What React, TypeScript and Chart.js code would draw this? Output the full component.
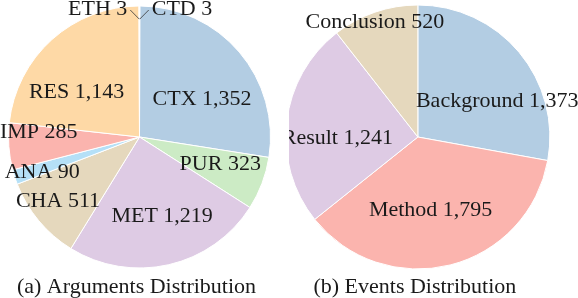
import React, { useEffect, useRef } from "react";
import { Chart, registerables } from "chart.js";

Chart.register(...registerables);

// ---- data ----
const argLabels = ["CTD", "CTX", "PUR", "MET", "CHA", "ANA", "IMP", "RES", "ETH"];
const argValues = [3, 1352, 323, 1219, 511, 90, 285, 1143, 3];
const argColors = ["#b3cde3", "#b3cde3", "#ccebc5", "#decbe4", "#e5d8bd", "#b5e0f7", "#fbb4ae", "#fed9a6", "#fed9a6"];

const evtLabels = ["Background", "Method", "Result", "Conclusion"];
const evtValues = [1373, 1795, 1241, 520];
const evtColors = ["#b3cde3", "#fbb4ae", "#decbe4", "#e5d8bd"];

const captionA = "(a) Arguments Distribution";
const captionB = "(b) Events Distribution";

// ---- label layout (angle offset in degrees, radial fraction) or leader side ----
type Lay = { dAngle?: number; frac?: number; leader?: "left" | "right" };
const argLayout: Lay[] = [
  { leader: "right" },
  { dAngle: 9, frac: 0.56 },
  { dAngle: -2.3, frac: 0.65 },
  { dAngle: -3, frac: 0.63 },
  { dAngle: 1.7, frac: 0.79 },
  { dAngle: -2.2, frac: 0.79 },
  { dAngle: 7.1, frac: 0.77 },
  { dAngle: -12.5, frac: 0.59 },
  { leader: "left" },
];
const evtLayout: Lay[] = [
  { dAngle: 15.5, frac: 0.66 },
  { dAngle: 4.2, frac: 0.56 },
  { dAngle: -7.7, frac: 0.61 },
  { dAngle: -1.5, frac: 0.93 },
];

const FONT = '22px "Liberation Serif", "Times New Roman", serif';
const TEXT = "#1a1a1a";

const fmt = (v: number) => v.toLocaleString("en-US");

function makeLabelPlugin(labels: string[], values: number[], layout: Lay[], caption: string) {
  return {
    id: "pieLabels",
    afterDatasetsDraw(chart: any) {
      const ctx = chart.ctx as CanvasRenderingContext2D;
      const meta = chart.getDatasetMeta(0);
      ctx.save();
      ctx.font = FONT;
      ctx.fillStyle = TEXT;
      ctx.textBaseline = "middle";
      let cx = 0, R = 0;
      meta.data.forEach((arc: any, i: number) => {
        const p = arc.getProps(["x", "y", "startAngle", "endAngle", "outerRadius"], true);
        cx = p.x; R = p.outerRadius;
        const mid = (p.startAngle + p.endAngle) / 2;
        const lay = layout[i];
        const text = `${labels[i]} ${fmt(values[i])}`;
        if (lay.leader) {
          const bx = p.x + Math.cos(mid) * R * 0.9;
          const by = p.y + Math.sin(mid) * R * 0.9;
          const side = lay.leader === "left" ? -1 : 1;
          const ex = bx + side * 9;
          const ey = p.y - R + 4;
          ctx.strokeStyle = "#333";
          ctx.lineWidth = 0.8;
          ctx.beginPath();
          ctx.moveTo(bx, by);
          ctx.lineTo(ex, ey);
          ctx.stroke();
          ctx.textAlign = lay.leader === "left" ? "right" : "left";
          ctx.fillText(text, ex + side * 3, p.y - R + 3);
        } else {
          const a = mid + ((lay.dAngle || 0) * Math.PI) / 180;
          const r = R * (lay.frac || 0.6);
          ctx.textAlign = "center";
          ctx.fillText(text, p.x + Math.cos(a) * r, p.y + Math.sin(a) * r);
        }
      });
      ctx.textAlign = "center";
      ctx.fillText(caption, cx - 3, 287);
      ctx.restore();
    },
  };
}

function PieChart(props: {
  labels: string[];
  values: number[];
  colors: string[];
  layout: Lay[];
  caption: string;
  padding: { left: number; right: number; top: number; bottom: number };
  radius: number;
  width: number;
}) {
  const ref = useRef<HTMLCanvasElement>(null);
  useEffect(() => {
    const chart = new Chart(ref.current!, {
      type: "pie",
      data: {
        labels: props.labels,
        datasets: [
          {
            data: props.values,
            backgroundColor: props.colors,
            borderColor: "#ffffff",
            borderWidth: 1,
          },
        ],
      },
      options: {
        responsive: false,
        animation: false,
        events: [],
        radius: props.radius,
        layout: { padding: props.padding },
        plugins: { legend: { display: false }, tooltip: { enabled: false } },
      } as any,
      plugins: [makeLabelPlugin(props.labels, props.values, props.layout, props.caption)],
    });
    return () => chart.destroy();
  }, []);
  return <canvas ref={ref} width={props.width} height={298} style={{ display: "block", width: props.width, height: 298 }} />;
}

export default function App() {
  return (
    <div style={{ position: "absolute", left: 0, top: 0, width: 578, height: 298, background: "#fff", display: "flex" }}>
      <PieChart
        labels={argLabels}
        values={argValues}
        colors={argColors}
        layout={argLayout}
        caption={captionA}
        radius={131}
        width={289}
        padding={{ left: 8.5, right: 18.5, top: 6, bottom: 30 }}
      />
      <PieChart
        labels={evtLabels}
        values={evtValues}
        colors={evtColors}
        layout={evtLayout}
        caption={captionB}
        radius={132}
        width={289}
        padding={{ left: -6.3, right: 31.3, top: 5, bottom: 29 }}
      />
    </div>
  );
}
